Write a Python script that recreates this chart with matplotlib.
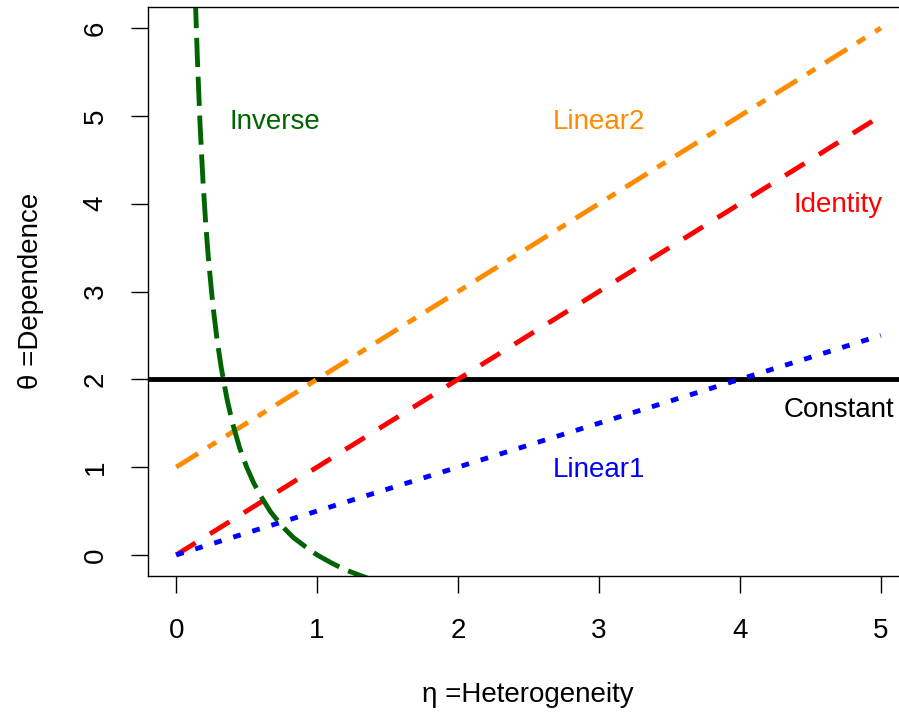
import matplotlib.pyplot as plt
import numpy as np

plt.rcParams['font.family'] = ['Liberation Sans', 'DejaVu Sans']

# straight lines, given by their end points (eta = 0 and eta = 5)
eta_ends = [0, 5]
constant_level = 2
identity_y = [0, 5]
linear1_y = [0, 2.5]
linear2_y = [1, 6]

# inverse curve, points
inverse_x = [0.13, 0.14, 0.15, 0.17, 0.19, 0.21, 0.23, 0.26, 0.29, 0.32,
             0.36, 0.40, 0.45, 0.50, 0.55, 0.60, 0.67, 0.75, 0.83, 0.92,
             1.0, 1.1, 1.2, 1.3, 1.4]
inverse_y = [6.69, 6.14, 5.67, 4.88, 4.26, 3.76, 3.35, 2.85, 2.45, 2.13,
             1.78, 1.50, 1.22, 1.00, 0.82, 0.67, 0.49, 0.33, 0.20, 0.09,
             0.0, -0.09, -0.17, -0.23, -0.29]

labels = ['Inverse', 'Linear2', 'Identity', 'Constant', 'Linear1']
label_x = [0.7, 3.0, 4.7, 4.7, 3.0]
label_y = [4.93, 4.93, 3.98, 1.65, 0.97]
label_col = ['darkgreen', 'darkorange', 'red', 'black', 'blue']

fs = 20

fig = plt.figure(figsize=(8.99, 7.13), dpi=100)
ax = fig.add_axes([148 / 899, 1 - 576 / 713, 761 / 899, 569 / 713])

ax.axhline(constant_level, color='black', lw=3.5)
ax.plot(eta_ends, identity_y, color='red', lw=3.5, dashes=(4.7, 3.5))
ax.plot(eta_ends, linear1_y, color='blue', lw=3.5, dashes=(1.6, 2.5))
ax.plot(eta_ends, linear2_y, color='darkorange', lw=3.5, dashes=(5.3, 2.4, 2, 2.4))
ax.plot(inverse_x, inverse_y, color='darkgreen', lw=3.5, dashes=(6, 2))

for t, x, y, c in zip(labels, label_x, label_y, label_col):
    ax.text(x, y, t, color=c, fontsize=fs, ha='center', va='center')

ax.set_xlim(-0.2, 5.2)
ax.set_ylim(-0.24, 6.24)
ax.set_xticks([0, 1, 2, 3, 4, 5])
ax.set_yticks([0, 1, 2, 3, 4, 5, 6])
ax.tick_params(length=12.5, width=1, labelsize=fs, direction='out')
ax.tick_params(axis='y', pad=16)
ax.tick_params(axis='x', pad=18)
for lab in ax.get_yticklabels():
    lab.set_rotation(90)
    lab.set_va('center')
for s in ax.spines.values():
    s.set_linewidth(1)

fig.text(528 / 899, 1 - 695 / 713, 'η =Heterogeneity', fontsize=fs, ha='center', va='center')
fig.text(31 / 899, 1 - 291 / 713, 'θ =Dependence', fontsize=fs, ha='center', va='center', rotation=90)

fig.savefig('out.png', dpi=100)
